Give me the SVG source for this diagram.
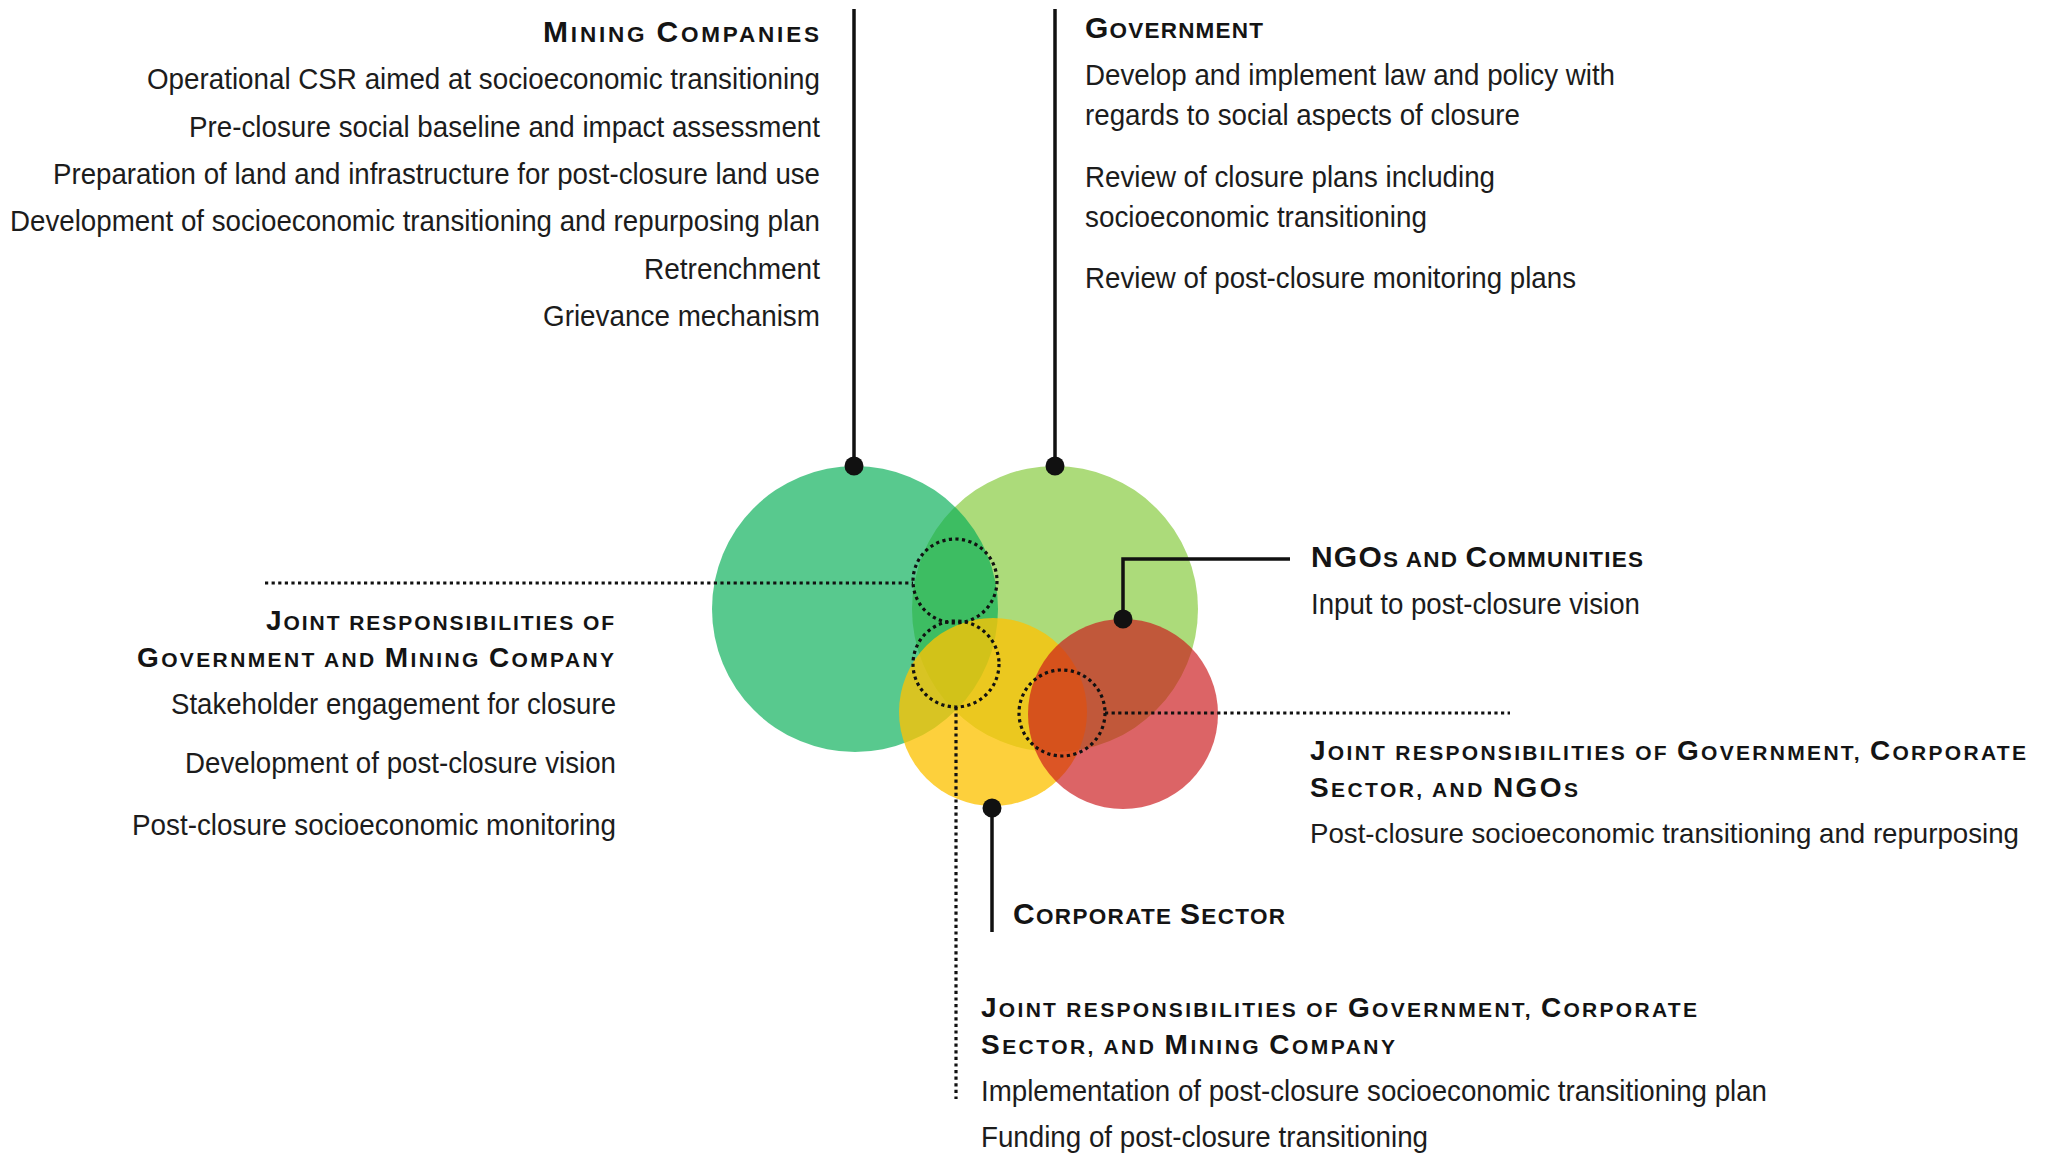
<svg xmlns="http://www.w3.org/2000/svg" width="2048" height="1156" viewBox="0 0 2048 1156">
<style>
  .hd { font-family: "Liberation Sans", Arial, sans-serif; font-weight: bold; font-size: 22.5px; fill: #141414; }
  .hd .B { font-size: 30px; }
  .jh { font-family: "Liberation Sans", Arial, sans-serif; font-weight: bold; font-size: 21px; fill: #141414; }
  .jh .B { font-size: 28px; }
  .tx { font-family: "Liberation Sans", Arial, sans-serif; font-size: 29.5px; fill: #1c1c1c; }
  .ln { fill: none; stroke: #111; stroke-width: 3.5; }
  .dt { fill: none; stroke: #111; stroke-width: 3.2; stroke-dasharray: 3.2 3.4; }
  .pin { fill: #111; }
</style>
<rect width="2048" height="1156" fill="#ffffff"/>

<g id="government">
  <circle cx="1055" cy="609" r="143" fill="#acdb7a"/>
  <text class="hd" x="1085" y="38" textLength="178" lengthAdjust="spacing"><tspan class="B">G</tspan>OVERNMENT</text>
  <text class="tx" x="1085" y="85" textLength="530" lengthAdjust="spacingAndGlyphs">Develop and implement law and policy with</text>
  <text class="tx" x="1085" y="125" textLength="435" lengthAdjust="spacingAndGlyphs">regards to social aspects of closure</text>
  <text class="tx" x="1085" y="187" textLength="410" lengthAdjust="spacingAndGlyphs">Review of closure plans including</text>
  <text class="tx" x="1085" y="227" textLength="342" lengthAdjust="spacingAndGlyphs">socioeconomic transitioning</text>
  <text class="tx" x="1085" y="288" textLength="491" lengthAdjust="spacingAndGlyphs">Review of post-closure monitoring plans</text>
</g>

<g id="mining-companies">
  <circle cx="855" cy="609" r="143" fill="#06af56" fill-opacity="0.67"/>
  <text class="hd" x="543" y="42" textLength="276" lengthAdjust="spacing"><tspan class="B">M</tspan>INING <tspan class="B">C</tspan>OMPANIES</text>
  <text class="tx" x="147" y="89" textLength="673" lengthAdjust="spacingAndGlyphs">Operational CSR aimed at socioeconomic transitioning</text>
  <text class="tx" x="189" y="137" textLength="631" lengthAdjust="spacingAndGlyphs">Pre-closure social baseline and impact assessment</text>
  <text class="tx" x="53" y="184" textLength="767" lengthAdjust="spacingAndGlyphs">Preparation of land and infrastructure for post-closure land use</text>
  <text class="tx" x="10" y="231" textLength="810" lengthAdjust="spacingAndGlyphs">Development of socioeconomic transitioning and repurposing plan</text>
  <text class="tx" x="644" y="279" textLength="176" lengthAdjust="spacingAndGlyphs">Retrenchment</text>
  <text class="tx" x="543" y="326" textLength="277" lengthAdjust="spacingAndGlyphs">Grievance mechanism</text>
</g>

<g id="corporate-sector">
  <circle cx="993" cy="712" r="94" fill="#fcc305" fill-opacity="0.78"/>
  <text class="hd" x="1013" y="924" textLength="272" lengthAdjust="spacing"><tspan class="B">C</tspan>ORPORATE <tspan class="B">S</tspan>ECTOR</text>
</g>

<g id="ngos-communities">
  <circle cx="1123" cy="714" r="95" fill="#cb181b" fill-opacity="0.67"/>
  <text class="hd" x="1311" y="567" textLength="332" lengthAdjust="spacing"><tspan class="B">NGO</tspan>S AND <tspan class="B">C</tspan>OMMUNITIES</text>
  <text class="tx" x="1311" y="614" textLength="329" lengthAdjust="spacingAndGlyphs">Input to post-closure vision</text>
</g>

<g id="joint-government-mining">
  <circle class="dt" cx="955" cy="581" r="42"/>
  <text class="jh" x="266" y="630" textLength="348" lengthAdjust="spacing"><tspan class="B">J</tspan>OINT RESPONSIBILITIES OF</text>
  <text class="jh" x="137" y="667" textLength="477" lengthAdjust="spacing"><tspan class="B">G</tspan>OVERNMENT AND <tspan class="B">M</tspan>INING <tspan class="B">C</tspan>OMPANY</text>
  <text class="tx" x="171" y="714" textLength="445" lengthAdjust="spacingAndGlyphs">Stakeholder engagement for closure</text>
  <text class="tx" x="185" y="773" textLength="431" lengthAdjust="spacingAndGlyphs">Development of post-closure vision</text>
  <text class="tx" x="132" y="835" textLength="484" lengthAdjust="spacingAndGlyphs">Post-closure socioeconomic monitoring</text>
</g>

<g id="joint-government-corporate-mining">
  <circle class="dt" cx="956" cy="664" r="43"/>
  <text class="jh" x="981" y="1017" textLength="716" lengthAdjust="spacing"><tspan class="B">J</tspan>OINT RESPONSIBILITIES OF <tspan class="B">G</tspan>OVERNMENT, <tspan class="B">C</tspan>ORPORATE</text>
  <text class="jh" x="981" y="1054" textLength="414" lengthAdjust="spacing"><tspan class="B">S</tspan>ECTOR, AND <tspan class="B">M</tspan>INING <tspan class="B">C</tspan>OMPANY</text>
  <text class="tx" x="981" y="1101" textLength="786" lengthAdjust="spacingAndGlyphs">Implementation of post-closure socioeconomic transitioning plan</text>
  <text class="tx" x="981" y="1147" textLength="447" lengthAdjust="spacingAndGlyphs">Funding of post-closure transitioning</text>
</g>

<g id="joint-government-corporate-ngos">
  <circle class="dt" cx="1062" cy="713" r="43"/>
  <text class="jh" x="1310" y="760" textLength="716" lengthAdjust="spacing"><tspan class="B">J</tspan>OINT RESPONSIBILITIES OF <tspan class="B">G</tspan>OVERNMENT, <tspan class="B">C</tspan>ORPORATE</text>
  <text class="jh" x="1310" y="797" textLength="268" lengthAdjust="spacing"><tspan class="B">S</tspan>ECTOR, AND <tspan class="B">NGO</tspan>S</text>
  <text class="tx" x="1310" y="843" style="font-size:28.5px" textLength="709" lengthAdjust="spacingAndGlyphs">Post-closure socioeconomic transitioning and repurposing</text>
</g>

<g id="connectors">
  <path class="ln" d="M854,9 V466"/>
  <circle class="pin" cx="854" cy="466" r="9.5"/>
  <path class="ln" d="M1055,9 V466"/>
  <circle class="pin" cx="1055" cy="466" r="9.5"/>
  <path class="ln" d="M1290,559 H1123 V619"/>
  <circle class="pin" cx="1123" cy="619" r="9.5"/>
  <path class="ln" d="M992,808 V932"/>
  <circle class="pin" cx="992" cy="808" r="9.5"/>
  <path class="dt" d="M265,583 H913"/>
  <path class="dt" d="M1105,713 H1510"/>
  <path class="dt" d="M956,707 V1099"/>
</g>
</svg>
